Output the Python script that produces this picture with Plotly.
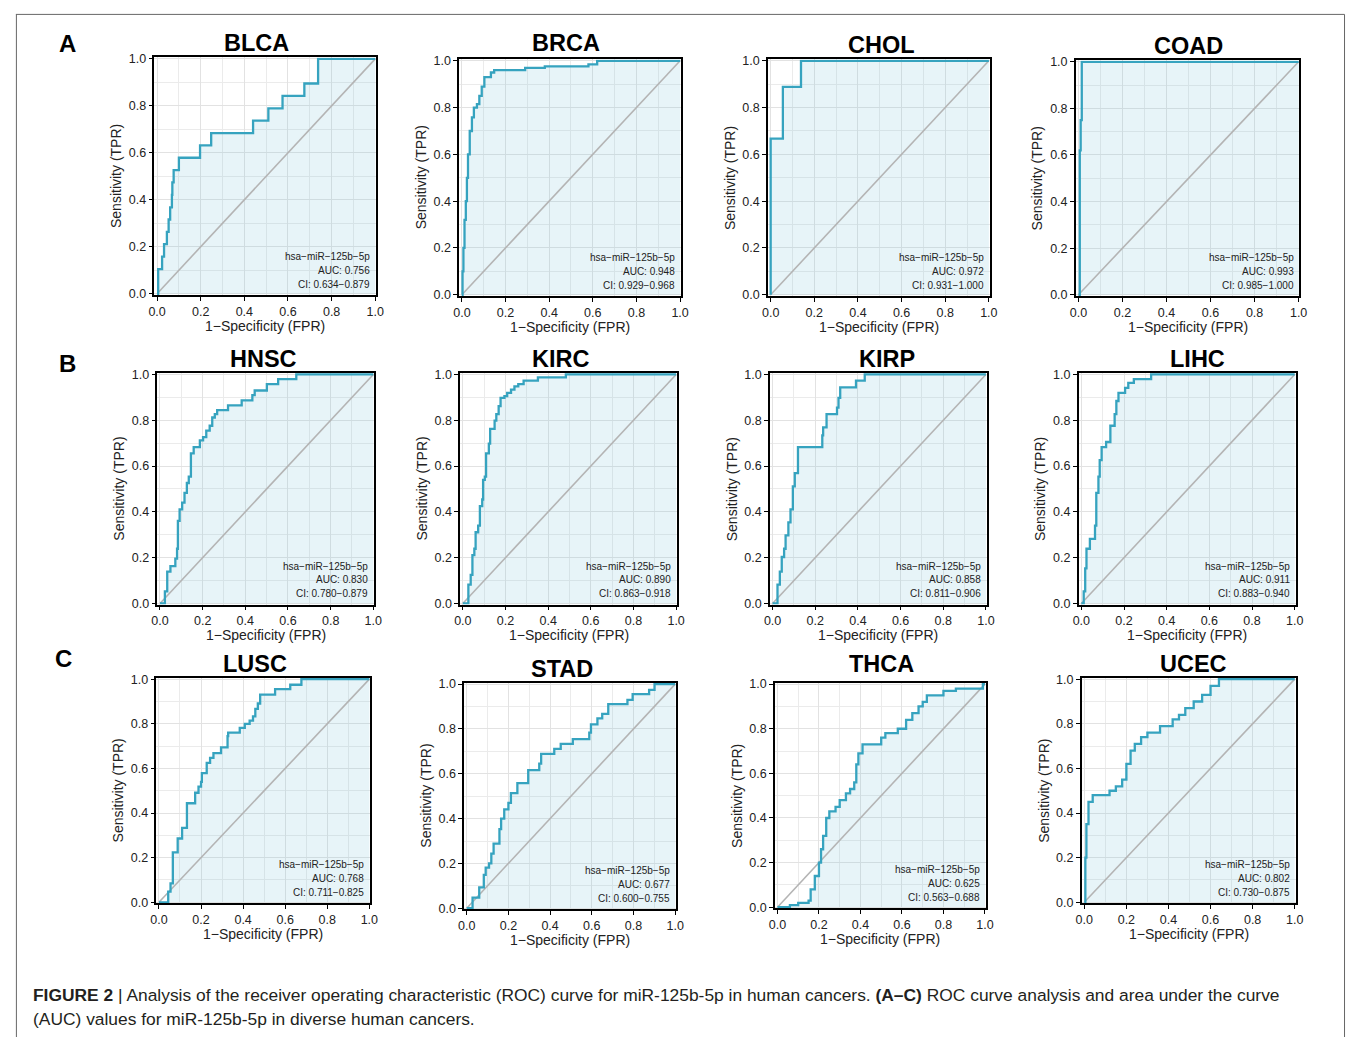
import plotly.graph_objects as go

W, H = 1355, 1043

# ---------------- data ----------------
cancers = ["BLCA", "BRCA", "CHOL", "COAD",
           "HNSC", "KIRC", "KIRP", "LIHC",
           "LUSC", "STAD", "THCA", "UCEC"]
mirna = "hsa−miR−125b−5p"
auc = ["0.756", "0.948", "0.972", "0.993",
       "0.830", "0.890", "0.858", "0.911",
       "0.768", "0.677", "0.625", "0.802"]
ci_low = ["0.634", "0.929", "0.931", "0.985",
          "0.780", "0.863", "0.811", "0.883",
          "0.711", "0.600", "0.563", "0.730"]
ci_high = ["0.879", "0.968", "1.000", "1.000",
           "0.879", "0.918", "0.906", "0.940",
           "0.825", "0.755", "0.688", "0.875"]
tick_vals = [0.0, 0.2, 0.4, 0.6, 0.8, 1.0]
panel_letters = ["A", "B", "C"]

# ROC step points (FPR, TPR) - curve goes right then up to each point
fpr_BLCA = [0, 0.005, 0.023, 0.032, 0.045, 0.053, 0.060, 0.068, 0.070, 0.076, 0.100, 0.197, 0.248, 0.440, 0.510, 0.575, 0.675, 0.738, 1.0]
tpr_BLCA = [0, 0.105, 0.158, 0.211, 0.263, 0.316, 0.368, 0.421, 0.474, 0.526, 0.579, 0.632, 0.684, 0.737, 0.789, 0.842, 0.895, 1.000, 1.0]

fpr_BRCA = [0, 0.003, 0.007, 0.012, 0.018, 0.023, 0.028, 0.036, 0.046, 0.055, 0.069, 0.080, 0.091, 0.103, 0.133, 0.148, 0.290, 0.380, 0.580, 0.620, 1.0]
tpr_BRCA = [0, 0.100, 0.200, 0.320, 0.400, 0.500, 0.600, 0.700, 0.758, 0.800, 0.815, 0.850, 0.890, 0.930, 0.950, 0.960, 0.970, 0.976, 0.985, 1.000, 1.0]

fpr_CHOL = [0, 0.0, 0.056, 0.139, 1.0]
tpr_CHOL = [0, 0.667, 0.889, 1.000, 1.0]

fpr_COAD = [0, 0.004, 0.006, 0.010, 0.015, 1.0]
tpr_COAD = [0, 0.000, 0.620, 0.750, 1.000, 1.0]

fpr_HNSC = [0, 0.005, 0.023, 0.034, 0.049, 0.072, 0.080, 0.084, 0.092, 0.104, 0.115, 0.126, 0.135, 0.145, 0.158, 0.187, 0.202, 0.217, 0.233, 0.245, 0.257, 0.268, 0.319, 0.383, 0.433, 0.444, 0.501, 0.554, 0.639, 1.0]
tpr_HNSC = [0, 0.000, 0.053, 0.139, 0.163, 0.196, 0.239, 0.361, 0.411, 0.440, 0.483, 0.526, 0.554, 0.655, 0.683, 0.712, 0.726, 0.755, 0.776, 0.812, 0.827, 0.844, 0.865, 0.887, 0.910, 0.930, 0.958, 0.980, 1.000, 1.0]

fpr_KIRC = [0, 0.018, 0.026, 0.037, 0.045, 0.054, 0.060, 0.072, 0.080, 0.091, 0.095, 0.103, 0.109, 0.122, 0.128, 0.149, 0.157, 0.168, 0.177, 0.195, 0.208, 0.226, 0.242, 0.260, 0.285, 0.352, 0.483, 1.0]
tpr_KIRC = [0, 0.000, 0.082, 0.125, 0.211, 0.239, 0.311, 0.340, 0.425, 0.454, 0.540, 0.554, 0.655, 0.698, 0.762, 0.798, 0.827, 0.862, 0.898, 0.905, 0.920, 0.934, 0.948, 0.958, 0.973, 0.987, 1.000, 1.0]

fpr_KIRP = [0, 0.011, 0.023, 0.034, 0.043, 0.054, 0.061, 0.074, 0.084, 0.095, 0.104, 0.119, 0.233, 0.237, 0.253, 0.302, 0.309, 0.317, 0.391, 0.432, 1.0]
tpr_KIRP = [0, 0.000, 0.082, 0.139, 0.203, 0.239, 0.297, 0.354, 0.411, 0.511, 0.569, 0.683, 0.734, 0.769, 0.827, 0.855, 0.898, 0.944, 0.973, 1.000, 1.0]

fpr_LIHC = [0, 0.003, 0.011, 0.018, 0.024, 0.040, 0.064, 0.070, 0.080, 0.086, 0.095, 0.116, 0.136, 0.156, 0.164, 0.174, 0.205, 0.220, 0.246, 0.327, 1.0]
tpr_LIHC = [0, 0.000, 0.053, 0.153, 0.239, 0.282, 0.340, 0.483, 0.554, 0.626, 0.683, 0.705, 0.776, 0.827, 0.884, 0.920, 0.941, 0.963, 0.980, 1.000, 1.0]

fpr_LUSC = [0, 0.024, 0.044, 0.055, 0.066, 0.089, 0.110, 0.133, 0.172, 0.188, 0.200, 0.204, 0.227, 0.243, 0.259, 0.295, 0.326, 0.329, 0.384, 0.408, 0.431, 0.447, 0.458, 0.470, 0.481, 0.552, 0.624, 0.677, 1.0]
tpr_LUSC = [0, 0.000, 0.048, 0.085, 0.224, 0.286, 0.334, 0.444, 0.491, 0.518, 0.540, 0.579, 0.625, 0.647, 0.669, 0.694, 0.745, 0.760, 0.782, 0.800, 0.814, 0.833, 0.867, 0.891, 0.931, 0.955, 0.975, 1.000, 1.0]

fpr_STAD = [0, 0.008, 0.028, 0.060, 0.082, 0.091, 0.107, 0.118, 0.129, 0.157, 0.165, 0.180, 0.200, 0.212, 0.243, 0.295, 0.348, 0.357, 0.420, 0.451, 0.509, 0.588, 0.596, 0.627, 0.650, 0.679, 0.771, 0.796, 0.875, 0.901, 1.0]
tpr_STAD = [0, 0.000, 0.047, 0.093, 0.149, 0.181, 0.200, 0.244, 0.288, 0.353, 0.400, 0.441, 0.470, 0.514, 0.558, 0.616, 0.645, 0.689, 0.711, 0.733, 0.755, 0.784, 0.820, 0.847, 0.867, 0.911, 0.930, 0.955, 0.974, 1.000, 1.0]

fpr_THCA = [0, 0.040, 0.060, 0.100, 0.150, 0.160, 0.180, 0.200, 0.210, 0.220, 0.235, 0.250, 0.280, 0.300, 0.330, 0.350, 0.370, 0.380, 0.390, 0.410, 0.500, 0.520, 0.580, 0.620, 0.650, 0.680, 0.700, 0.720, 0.800, 0.860, 0.990, 1.0]
tpr_THCA = [0, 0.000, 0.010, 0.020, 0.030, 0.080, 0.140, 0.200, 0.260, 0.320, 0.400, 0.430, 0.450, 0.480, 0.510, 0.530, 0.560, 0.640, 0.690, 0.730, 0.760, 0.780, 0.800, 0.840, 0.870, 0.900, 0.920, 0.950, 0.970, 0.980, 1.000, 1.0]

fpr_UCEC = [0, 0.005, 0.010, 0.020, 0.040, 0.120, 0.150, 0.180, 0.200, 0.220, 0.240, 0.270, 0.300, 0.360, 0.420, 0.450, 0.480, 0.520, 0.560, 0.600, 0.640, 1.0]
tpr_UCEC = [0, 0.200, 0.350, 0.450, 0.480, 0.500, 0.520, 0.550, 0.620, 0.680, 0.710, 0.740, 0.760, 0.790, 0.820, 0.840, 0.870, 0.900, 0.930, 0.970, 1.000, 1.0]

fpr_all = [fpr_BLCA, fpr_BRCA, fpr_CHOL, fpr_COAD, fpr_HNSC, fpr_KIRC,
           fpr_KIRP, fpr_LIHC, fpr_LUSC, fpr_STAD, fpr_THCA, fpr_UCEC]
tpr_all = [tpr_BLCA, tpr_BRCA, tpr_CHOL, tpr_COAD, tpr_HNSC, tpr_KIRC,
           tpr_KIRP, tpr_LIHC, tpr_LUSC, tpr_STAD, tpr_THCA, tpr_UCEC]

# ---------------- layout (pixel boxes: left, top, right, bottom) ----------------
boxes = [
    (150, 53, 374, 293), (458, 55, 682, 294), (770, 55, 994, 294), (1081, 56, 1307, 294),
    (153, 372, 372, 606), (459, 372, 678, 606), (772, 372, 991, 606), (1084, 372, 1303, 606),
    (152, 680, 368, 908), (463, 685, 677, 914), (777, 685, 990, 913), (1087, 680, 1303, 908),
]
title_pos = [
    (253, 38), (566, 38), (885, 40), (1195, 41),
    (260, 358), (560, 358), (890, 358), (1204, 358),
    (252, 666), (562, 671), (885, 666), (1200, 666),
]
letter_pos = [(62, 39), (62, 362), (58, 660)]

FONT = "Liberation Sans, Arial, Helvetica, sans-serif"
CURVE = "#36A3BF"
FILL = "rgba(120,195,215,0.18)"
DIAG = "#B4B4B4"

def px(x):
    return x / W

def py(y):
    return 1 - y / H

fig = go.Figure()
annotations = []

for i, name in enumerate(cancers):
    n = i + 1
    xa = "x" if n == 1 else f"x{n}"
    ya = "y" if n == 1 else f"y{n}"
    l, t, r, b = boxes[i]
    fx, fy = fpr_all[i], tpr_all[i]

    fig.add_trace(go.Scatter(x=fx, y=fy, mode="lines", fill="tozeroy", fillcolor=FILL,
                             line=dict(width=0, shape="hv", color=FILL), hoverinfo="skip",
                             showlegend=False, xaxis=xa, yaxis=ya))
    fig.add_trace(go.Scatter(x=[tick_vals[0], tick_vals[-1]], y=[tick_vals[0], tick_vals[-1]],
                             mode="lines", line=dict(color=DIAG, width=1.6),
                             hoverinfo="skip", showlegend=False, xaxis=xa, yaxis=ya))
    fig.add_trace(go.Scatter(x=fx, y=fy, mode="lines",
                             line=dict(color=CURVE, width=2.3, shape="hv"),
                             showlegend=False, xaxis=xa, yaxis=ya))

    axis_common = dict(
        tickvals=tick_vals, tickformat=".1f", ticks="outside", ticklen=4, tickwidth=1,
        tickcolor="black", showline=True, mirror=True, linecolor="black", linewidth=1.6,
        showgrid=True, gridcolor="#E2E2E2", gridwidth=1.4, zeroline=False,
        tickfont=dict(family=FONT, size=12.5, color="#222"),
        minor=dict(dtick=0.1, tick0=0, showgrid=True, gridcolor="#EBEBEB", gridwidth=1, ticks=""),
        fixedrange=True,
    )
    fig.layout[f"xaxis{'' if n == 1 else n}"] = dict(
        domain=[px(l), px(r)], anchor=ya, range=[-0.012, 1.004], **axis_common)
    fig.layout[f"yaxis{'' if n == 1 else n}"] = dict(
        domain=[py(b), py(t)], anchor=xa, range=[-0.005, 1.006], **axis_common)

    # title
    tx, ty = title_pos[i]
    annotations.append(dict(text=f"<b>{name}</b>", x=px(tx), y=py(ty), xref="paper", yref="paper",
                            showarrow=False, xanchor="center", yanchor="middle",
                            font=dict(family=FONT, size=23.5, color="black")))
    # axis titles
    annotations.append(dict(text="1−Specificity (FPR)", x=px((l + r) / 2), y=py(b + 31),
                            xref="paper", yref="paper", showarrow=False,
                            xanchor="center", yanchor="middle",
                            font=dict(family=FONT, size=14, color="#222")))
    annotations.append(dict(text="Sensitivity (TPR)", x=px(l - 39), y=py((t + b) / 2),
                            xref="paper", yref="paper", showarrow=False, textangle=-90,
                            xanchor="center", yanchor="middle",
                            font=dict(family=FONT, size=14, color="#222")))
    # AUC text
    lines = [mirna, f"AUC: {auc[i]}", f"CI: {ci_low[i]}−{ci_high[i]}"]
    for k, txt in enumerate(lines):
        annotations.append(dict(text=txt, x=px(r - 4), y=py(b - 39 + 14 * k),
                                xref="paper", yref="paper", showarrow=False,
                                xanchor="right", yanchor="middle",
                                font=dict(family=FONT, size=10, color="#222")))

for k, letter in enumerate(panel_letters):
    lx, ly = letter_pos[k]
    annotations.append(dict(text=f"<b>{letter}</b>", x=px(lx), y=py(ly), xref="paper", yref="paper",
                            showarrow=False, xanchor="center", yanchor="middle",
                            font=dict(family=FONT, size=24, color="black")))

caption1 = ("<b>FIGURE 2</b> | Analysis of the receiver operating characteristic (ROC) curve for "
            "miR-125b-5p in human cancers. <b>(A–C)</b> ROC curve analysis and area under the curve")
caption2 = "(AUC) values for miR-125b-5p in diverse human cancers."
annotations.append(dict(text=caption1, x=px(25), y=py(1001), xref="paper", yref="paper",
                        showarrow=False, xanchor="left", yanchor="middle",
                        font=dict(family=FONT, size=17.4, color="#231F20")))
annotations.append(dict(text=caption2, x=px(25), y=py(1025), xref="paper", yref="paper",
                        showarrow=False, xanchor="left", yanchor="middle",
                        font=dict(family=FONT, size=17.4, color="#231F20")))

shapes = [
    dict(type="line", xref="paper", yref="paper", x0=px(10), x1=px(1352.5), y0=py(9.5), y1=py(9.5),
         line=dict(color="#666", width=1)),
    dict(type="line", xref="paper", yref="paper", x0=px(10.5), x1=px(10.5), y0=py(9.5), y1=0,
         line=dict(color="#666", width=1)),
    dict(type="line", xref="paper", yref="paper", x0=px(1352.5), x1=px(1352.5), y0=py(9.5), y1=0,
         line=dict(color="#666", width=1)),
]

fig.update_layout(
    width=W, height=H, margin=dict(l=0, r=0, t=0, b=0),
    paper_bgcolor="white", plot_bgcolor="white",
    annotations=annotations, shapes=shapes, showlegend=False,
)

fig.write_html("out.html")
